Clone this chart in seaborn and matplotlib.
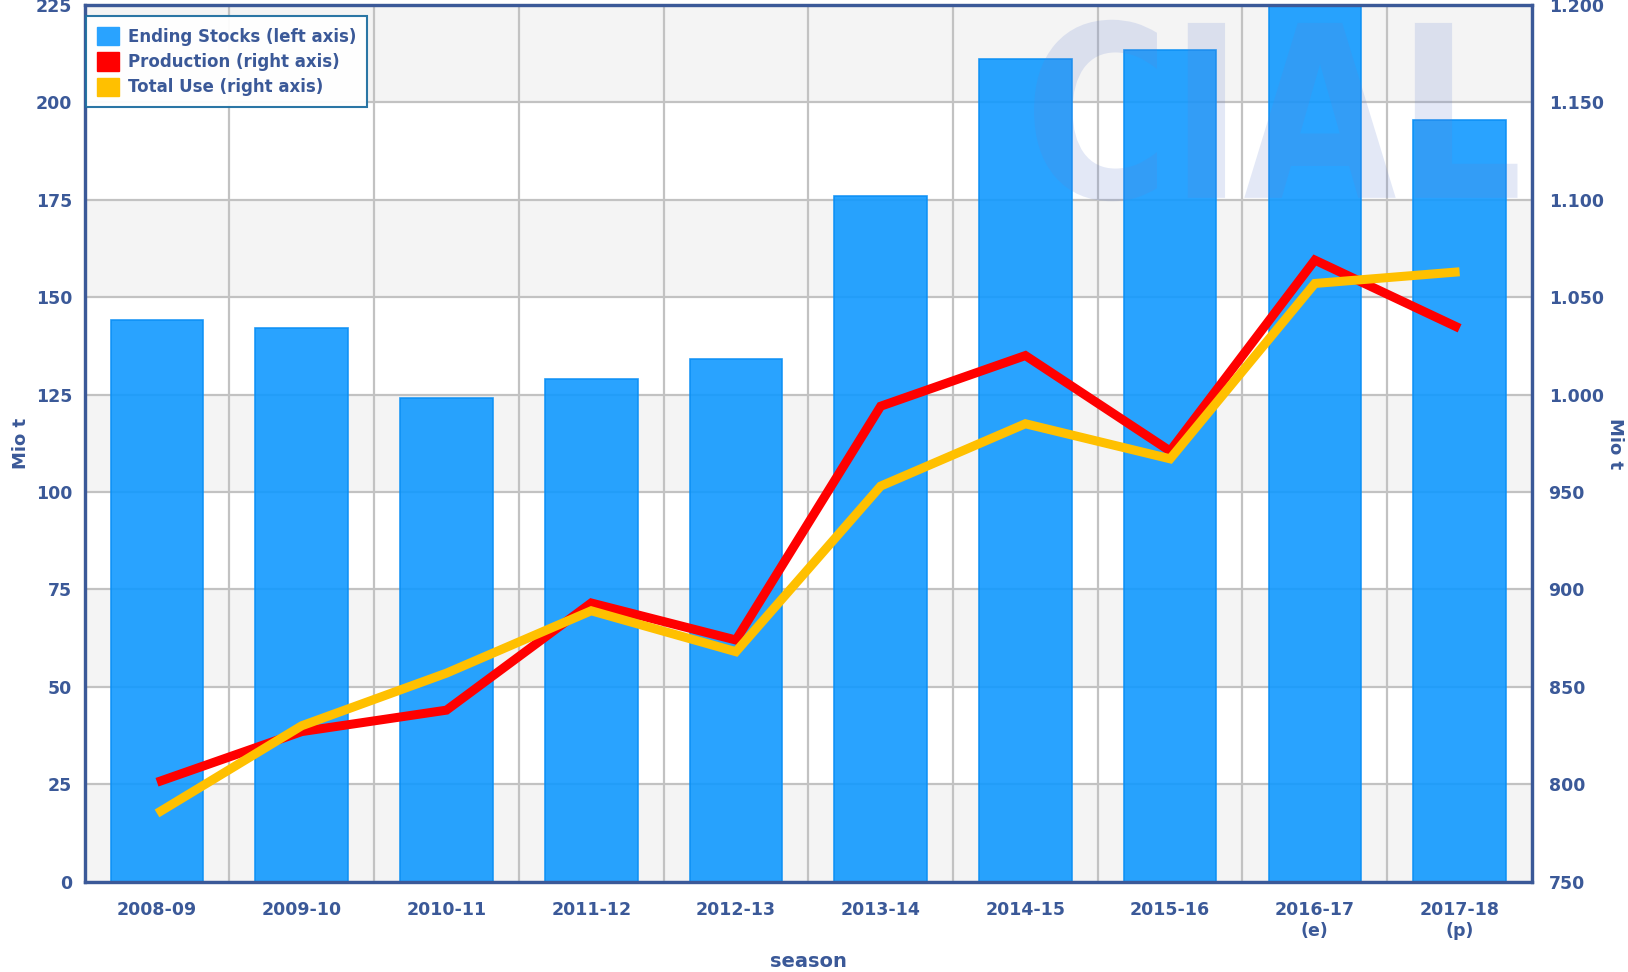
import numpy as np
import pandas as pd
import matplotlib
matplotlib.use("Agg")
import matplotlib.pyplot as plt
import seaborn as sns
from matplotlib.patches import Patch, PathPatch
from matplotlib.textpath import TextPath
from matplotlib.font_manager import FontProperties
from matplotlib.transforms import Affine2D
from matplotlib.ticker import FuncFormatter, FixedLocator

# ---- data ----
seasons = ["2008-09", "2009-10", "2010-11", "2011-12", "2012-13",
           "2013-14", "2014-15", "2015-16", "2016-17\n(e)", "2017-18\n(p)"]
ending_stocks = [144, 142, 124, 129, 134, 176, 211, 213.5, 227, 195.5]
production = [801, 827, 838, 893, 874, 994, 1020, 971, 1069, 1034]
total_use = [785, 830, 857, 889, 868, 953, 985, 967, 1057, 1063]
left_ticks = [0, 25, 50, 75, 100, 125, 150, 175, 200, 225]
right_ticks = [750, 800, 850, 900, 950, 1000, 1050, 1100, 1150, 1200]

df = pd.DataFrame({"season": seasons, "stocks": ending_stocks,
                   "production": production, "total_use": total_use})
df["pos"] = np.arange(len(df))

TXT = "#3b5998"
BAR = "#1199ff"
BAR_EDGE = "#0a8ff5"
RED = "#ff0000"
YEL = "#ffc000"

sns.set_style("white")
plt.rcParams["font.family"] = ["DejaVu Sans"]
plt.rcParams["font.weight"] = "bold"

fig = plt.figure(figsize=(16.28, 9.72), dpi=100)
ax = fig.add_axes([0.052, 0.093, 0.889, 0.902])
ax.set_facecolor("white")

# alternating background bands
for i in range(0, len(left_ticks) - 1, 2):
    ax.axhspan(left_ticks[i], left_ticks[i + 1], facecolor="#f4f4f4",
               edgecolor="none", zorder=0)

sns.barplot(data=df, x="pos", y="stocks", ax=ax, color=BAR, saturation=1,
            width=0.64, edgecolor=BAR_EDGE, linewidth=1.2, alpha=0.9,
            order=list(df["pos"]), native_scale=True, zorder=2)

# watermark logo
tp = TextPath((0, 0), "CIAL", size=1,
              prop=FontProperties(family="DejaVu Sans", weight="bold"))
ext = tp.get_extents()
x0, x1, y0, y1 = 0.656, 0.990, 0.776, 0.983
tr = (Affine2D().translate(-ext.x0, -ext.y0)
      .scale((x1 - x0) / ext.width, (y1 - y0) / ext.height)
      .translate(x0, y0))
logo = PathPatch(tr.transform_path(tp), transform=ax.transAxes,
                 facecolor=(100 / 255, 130 / 255, 210 / 255), edgecolor="none",
                 alpha=0.18, zorder=2.5)
ax.add_patch(logo)

ax.set_xlim(-0.5, len(seasons) - 0.5)
ax.set_ylim(0, 225)
ax.set_yticks(left_ticks)
ax.set_xticks(df["pos"])
ax.set_xticklabels(seasons)
ax.xaxis.set_minor_locator(FixedLocator(np.arange(-0.5, len(seasons), 1.0)))
ax.set_axisbelow(True)
ax.grid(which="minor", axis="x", color="#c2c2c2", lw=1.6)
ax.grid(which="major", axis="y", color="#c2c2c2", lw=1.6)
ax.grid(which="major", axis="x", visible=False)
ax.tick_params(axis="x", which="major", length=0, pad=14, labelsize=12.5,
               labelcolor=TXT)
ax.tick_params(axis="x", which="minor", length=8, width=1.5, color=TXT,
               direction="out")
ax.tick_params(axis="y", length=0, pad=9, labelsize=12.5, labelcolor=TXT)
for t in ax.get_xticklabels() + ax.get_yticklabels():
    t.set_fontweight("bold")
ax.set_xlabel("season", fontsize=14, fontweight="bold", color=TXT, labelpad=9)
ax.set_ylabel("Mio t", fontsize=13, fontweight="bold", color=TXT, labelpad=4)

ax2 = ax.twinx()
sns.lineplot(data=df, x="pos", y="production", ax=ax2, color=RED, lw=6.5,
             zorder=3, solid_capstyle="butt", solid_joinstyle="miter")
sns.lineplot(data=df, x="pos", y="total_use", ax=ax2, color=YEL, lw=6.5,
             zorder=4, solid_capstyle="butt", solid_joinstyle="miter")
ax2.set_ylim(750, 1200)
ax2.set_yticks(right_ticks)
ax2.yaxis.set_major_formatter(FuncFormatter(lambda v, p: f"{v:,.0f}".replace(",", ".")))
ax2.tick_params(axis="y", length=0, pad=12, labelsize=12.5, labelcolor=TXT)
for t in ax2.get_yticklabels():
    t.set_fontweight("bold")
ax2.set_ylabel("Mio t", fontsize=13, fontweight="bold", color=TXT,
               rotation=270, labelpad=15)
ax2.set_xlim(-0.5, len(seasons) - 0.5)
ax2.set_xlabel("")
ax2.grid(False)
ax2.patch.set_visible(False)

for a in (ax, ax2):
    for s in a.spines.values():
        s.set_color(TXT)
        s.set_linewidth(2.3)
        s.set_visible(True)

handles = [Patch(facecolor="#29a3ff", edgecolor="#29a3ff", label="Ending Stocks (left axis)"),
           Patch(facecolor=RED, edgecolor=RED, label="Production (right axis)"),
           Patch(facecolor=YEL, edgecolor=YEL, label="Total Use (right axis)")]
leg = ax2.legend(handles=handles, loc="upper left", bbox_to_anchor=(0.001, 0.987),
                 borderaxespad=0, fancybox=False, frameon=True,
                 prop={"size": 12, "weight": "bold"}, handlelength=1.3,
                 handleheight=1.3, labelspacing=0.4, handletextpad=0.55,
                 borderpad=0.65, labelcolor=TXT)
leg.get_frame().set_edgecolor("#1f6fa0")
leg.get_frame().set_linewidth(1.5)
leg.get_frame().set_facecolor("white")
leg.get_frame().set_alpha(0.95)
leg.set_zorder(10)

fig.savefig("out.png", dpi=100)
